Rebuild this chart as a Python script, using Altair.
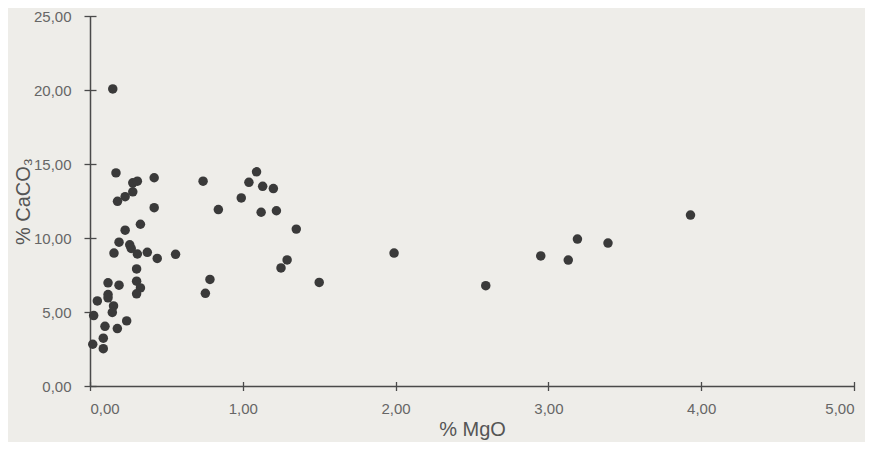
import altair as alt
import pandas as pd

# % MgO (x) and % CaCO3 (y)
mgo = [0.149, 0.17, 0.28, 0.31, 0.42, 0.28, 0.23, 0.18, 0.42, 0.33,
       0.23, 0.19, 0.26, 0.27, 0.157, 0.31, 0.375, 0.44, 0.56, 0.305,
       0.118, 0.19, 0.305, 0.33, 0.305, 0.118, 0.118, 0.048, 0.154, 0.146,
       0.024, 0.24, 0.098, 0.179, 0.087, 0.018, 0.087,
       0.74, 0.84, 0.785, 0.755, 0.99, 1.04, 1.09, 1.13, 1.20, 1.12,
       1.22, 1.35, 1.29, 1.25, 1.50, 1.99, 2.59, 2.95, 3.13, 3.19,
       3.39, 3.93]
caco3 = [20.07, 14.40, 13.73, 13.84, 14.07, 13.12, 12.79, 12.48, 12.05, 10.93,
         10.53, 9.72, 9.54, 9.29, 8.98, 8.92, 9.03, 8.62, 8.90, 7.91,
         6.97, 6.81, 7.08, 6.63, 6.23, 6.18, 5.96, 5.75, 5.41, 4.97,
         4.76, 4.40, 4.03, 3.88, 3.23, 2.82, 2.52,
         13.84, 11.92, 7.20, 6.26, 12.71, 13.76, 14.47, 13.49, 13.34, 11.74,
         11.84, 10.60, 8.52, 7.98, 7.00, 8.98, 6.78, 8.79, 8.51, 9.93,
         9.66, 11.55]

x_ticks = [0, 1, 2, 3, 4, 5]
y_ticks = [0, 5, 10, 15, 20, 25]

df = pd.DataFrame({"mgo": mgo, "caco3": caco3})

label_expr = "replace(format(datum.value, '.2f'), '.', ',')"
FONT = "Liberation Sans"
AX = "#4a4a4a"

xs = alt.Scale(domain=[0, 5], nice=False, zero=True)
ys = alt.Scale(domain=[0, 25], nice=False, zero=True)

points = alt.Chart(df).mark_circle(size=90, opacity=1, color="#3a3a3a").encode(
    x=alt.X("mgo:Q", scale=xs,
            axis=alt.Axis(values=x_ticks, labelExpr=label_expr, title="% MgO",
                          ticks=False, tickSize=0, grid=False, domainColor=AX,
                          domainWidth=1.5, labelPadding=15, labelFontSize=15,
                          labelColor="#666666", labelFont=FONT,
                          titleFont=FONT, titleFontSize=20, titleFontWeight="normal",
                          titleColor="#555555", titlePadding=3, orient="bottom")),
    y=alt.Y("caco3:Q", scale=ys,
            axis=alt.Axis(values=y_ticks, labelExpr=label_expr, title="% CaCO₃",
                          ticks=False, tickSize=0, grid=False, domainColor=AX,
                          domainWidth=1.5, labelPadding=19, labelFontSize=15,
                          labelColor="#666666", labelFont=FONT,
                          titleFont=FONT, titleFontSize=20, titleFontWeight="normal",
                          titleColor="#555555", titlePadding=0, orient="left")),
)

tick_layer = alt.Chart(df).mark_circle(opacity=0).encode(
    x=alt.X("mgo:Q", scale=xs,
            axis=alt.Axis(values=x_ticks, domain=False, labels=False, title=None,
                          grid=False, tickSize=9, offset=-4.5, tickColor=AX,
                          tickWidth=1.3, orient="bottom")),
    y=alt.Y("caco3:Q", scale=ys,
            axis=alt.Axis(values=y_ticks, domain=False, labels=False, title=None,
                          grid=False, tickSize=12, offset=-6, tickColor=AX,
                          tickWidth=1.3, orient="left")),
)

chart = alt.layer(points, tick_layer).resolve_axis(
    x="independent", y="independent"
).properties(
    width=764, height=370,
    autosize=alt.AutoSizeParams(type="none"),
    padding={"left": 82, "top": 8, "right": 11, "bottom": 56},
    background="#eeede9",
).configure_view(stroke=None)

chart.save("out.html", embed_options={"renderer": "svg", "actions": False})
